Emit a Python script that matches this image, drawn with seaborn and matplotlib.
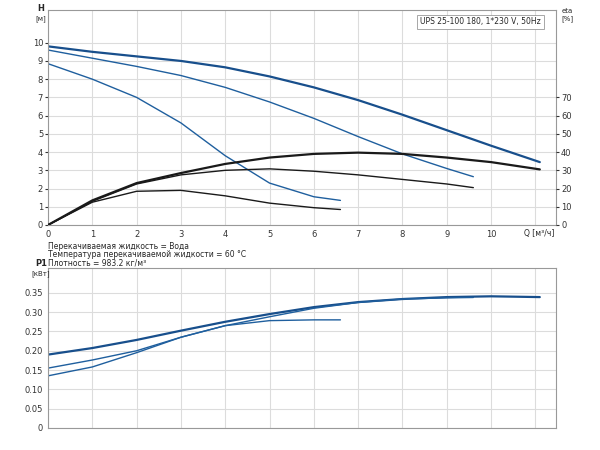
import matplotlib
matplotlib.use("Agg")
import matplotlib.pyplot as plt
import seaborn as sns

# pump curves
q_max = [0, 1, 2, 3, 4, 5, 6, 7, 8, 9, 10, 11.1]
h_max = [9.8, 9.5, 9.25, 9.0, 8.65, 8.15, 7.55, 6.85, 6.05, 5.2, 4.35, 3.45]
eta_max = [0, 13.5, 23, 28.5, 33.5, 37, 39, 39.7, 39, 37, 34.5, 30.5]
p_max = [0.19, 0.207, 0.228, 0.252, 0.275, 0.295, 0.313, 0.326, 0.334, 0.339, 0.341, 0.339]

q_mid = [0, 1, 2, 3, 4, 5, 6, 7, 8, 9, 9.6]
h_mid = [9.6, 9.15, 8.7, 8.2, 7.55, 6.75, 5.85, 4.85, 3.9, 3.1, 2.65]
eta_mid = [0, 13, 22.5, 27.5, 30, 30.8, 29.5, 27.5, 25, 22.5, 20.5]
p_mid = [0.155, 0.176, 0.20, 0.235, 0.265, 0.288, 0.31, 0.325, 0.334, 0.337, 0.338]

q_low = [0, 1, 2, 3, 4, 5, 6, 6.6]
h_low = [8.85, 8.0, 7.0, 5.6, 3.8, 2.3, 1.55, 1.35]
eta_low = [0, 12.5, 18.5, 19, 16, 12, 9.5, 8.5]
p_low = [0.135, 0.158, 0.195, 0.235, 0.265, 0.278, 0.28, 0.28]

blue = "#1f5f9e"
dark = "#1a1a1a"
grid_c = "#dcdcdc"

sns.set_style("white")
plt.rcParams["font.family"] = ["DejaVu Sans"]
fig = plt.figure(figsize=(6, 4.5), dpi=100)
ax = fig.add_axes([0.08, 0.5, 0.847, 0.478])
ax2 = ax.twinx()
axp = fig.add_axes([0.08, 0.049, 0.847, 0.356])

curves = [(q_max, h_max, eta_max, p_max, 1.6, "#184f8c"),
          (q_mid, h_mid, eta_mid, p_mid, 1.0, blue),
          (q_low, h_low, eta_low, p_low, 1.0, blue)]
for q, h, e, p, lw, col in curves:
    sns.lineplot(x=q, y=h, ax=ax, color=col, lw=lw)
    sns.lineplot(x=q, y=e, ax=ax2, color=dark, lw=lw)
    sns.lineplot(x=q, y=p, ax=axp, color=col, lw=lw)

for a in (ax, axp):
    a.set_xlim(0, 11.47)
    a.set_xticks(range(0, 12))
    a.grid(True, color=grid_c, lw=0.8)
    for s in a.spines.values():
        s.set_color("#999999")
    a.tick_params(labelsize=6, length=2, pad=1.5, colors="#333333")
ax.set_ylim(0, 11.8)
ax.set_yticks(range(0, 11))
ax2.set_ylim(0, 118)
ax2.set_yticks(range(0, 80, 10))
ax2.tick_params(labelsize=6, length=2, pad=1.5, colors="#333333")
for s in ax2.spines.values():
    s.set_visible(False)
axp.set_ylim(0, 0.415)
axp.set_yticks([0, 0.05, 0.1, 0.15, 0.2, 0.25, 0.3, 0.35])
axp.set_yticklabels(["0", "0.05", "0.10", "0.15", "0.20", "0.25", "0.30", "0.35"])
axp.set_xticklabels([])

fig.text(0.068, 0.975, "H", fontsize=6, fontweight="bold", ha="center")
fig.text(0.068, 0.955, "[м]", fontsize=5, ha="center")
fig.text(0.945, 0.972, "eta", fontsize=5, ha="center")
fig.text(0.945, 0.955, "[%]", fontsize=5, ha="center")
fig.text(0.068, 0.408, "P1", fontsize=6, fontweight="bold", ha="center")
fig.text(0.068, 0.388, "[кВт]", fontsize=5, ha="center")
ax.text(11.42, -0.45, "Q [м³/ч]", fontsize=5.5, ha="right", va="center",
        bbox=dict(fc="white", ec="none", pad=0.5))
ax.text(0.97, 0.965, "UPS 25-100 180, 1*230 V, 50Hz", transform=ax.transAxes,
        fontsize=5.5, ha="right", va="top",
        bbox=dict(fc="white", ec="#999999", lw=0.6, pad=2))
fig.text(0.08, 0.452, "Перекачиваемая жидкость = Вода", fontsize=5.5, va="center")
fig.text(0.08, 0.434, "Температура перекачиваемой жидкости = 60 °C", fontsize=5.5, va="center")
fig.text(0.08, 0.416, "Плотность = 983.2 кг/м³", fontsize=5.5, va="center")

fig.savefig("out.png", dpi=100)
